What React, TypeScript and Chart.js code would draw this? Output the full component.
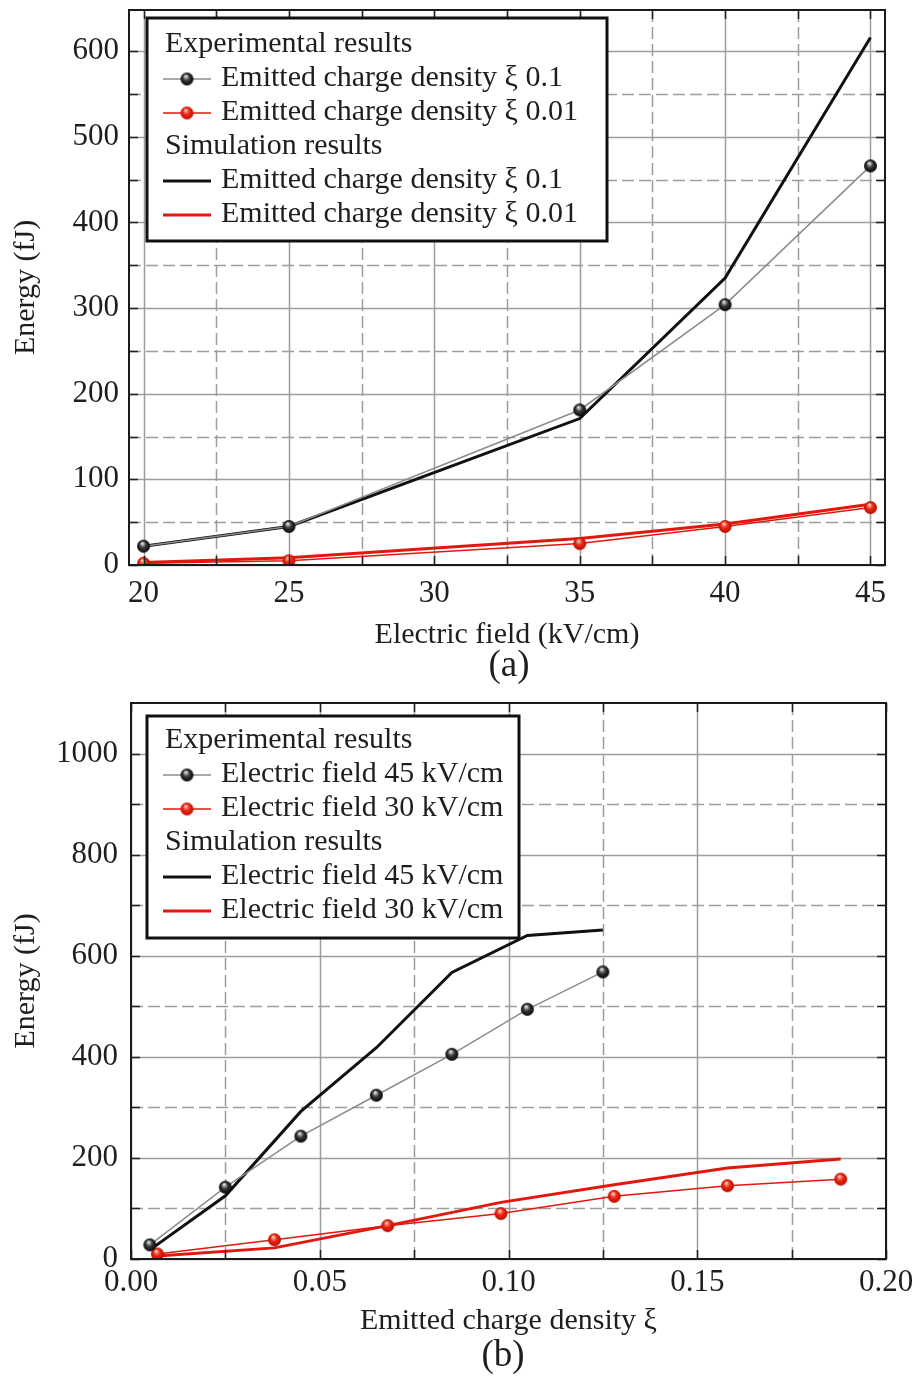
import React, { useEffect, useRef } from "react";
import { Chart, registerables } from "chart.js";

Chart.register(...registerables);

const FONT = "'Liberation Serif', 'Times New Roman', Times, serif";
const TEXT = "#1e1e1e";

// ---------- Panel (a) data ----------
const fieldKV = [20, 25, 35, 40, 45];
const expXi01 = [22, 45, 181, 304, 466];
const expXi001 = [2, 5, 25, 45, 67];
const simXi01 = [22, 45, 171, 335, 616];
const simXi001 = [3, 8.5, 31, 48, 71];

const aXMajor = [20, 25, 30, 35, 40, 45];
const aXMinor = [22.5, 27.5, 32.5, 37.5, 42.5];
const aYMajor = [0, 100, 200, 300, 400, 500, 600];
const aYMinor = [50, 150, 250, 350, 450, 550];

// ---------- Panel (b) data ----------
const xi45 = [0.005, 0.025, 0.045, 0.065, 0.085, 0.105, 0.125];
const exp45 = [28, 142, 243, 324, 405, 494, 568];
const sim45 = [18, 125, 292, 418, 567, 640, 651];
const xi30 = [0.007, 0.038, 0.068, 0.098, 0.128, 0.158, 0.188];
const exp30 = [10, 38, 66, 90, 124, 145, 158];
const sim30 = [6, 22, 66, 112, 147, 180, 198];

const bXMajor = [0, 0.05, 0.1, 0.15, 0.2];
const bXMinor = [0.025, 0.075, 0.125, 0.175];
const bYMajor = [0, 200, 400, 600, 800, 1000];
const bYMinor = [100, 300, 500, 700, 900];

const GREY_LINE = "#8c8c8c";
const RED = "#e3170d";
const BLACK = "#111111";

const TICK_SIZE = 31;
const TITLE_SIZE = 30;
const LEGEND_SIZE = 30;

function makeSphere(light: string, base: string, dark: string, r: number) {
  const c = document.createElement("canvas");
  const s = Math.ceil(r * 2 + 2);
  c.width = s;
  c.height = s;
  const g = c.getContext("2d")!;
  const cx = s / 2;
  const cy = s / 2;
  const grad = g.createRadialGradient(cx - r * 0.2, cy - r * 0.45, r * 0.08, cx, cy, r);
  grad.addColorStop(0, light);
  grad.addColorStop(0.45, base);
  grad.addColorStop(1, dark);
  g.fillStyle = grad;
  g.beginPath();
  g.arc(cx, cy, r, 0, Math.PI * 2);
  g.fill();
  return c;
}

type LegendCfg = { x: number; y: number; w: number; h: number; first: number };

function makeFramePlugin(
  xMajor: number[],
  xMinor: number[],
  yMajor: number[],
  yMinor: number[],
  legend: LegendCfg
) {
  return {
    id: "sciFrame",
    beforeDatasetsDraw(chart: any) {
      const { ctx, chartArea: a, scales } = chart;
      const x = scales.x;
      const y = scales.y;
      ctx.save();
      ctx.strokeStyle = "#9d9d9d";
      ctx.lineWidth = 1.5;
      const vline = (v: number) => {
        const px = Math.round(x.getPixelForValue(v)) + 0.5;
        ctx.beginPath();
        ctx.moveTo(px, a.top);
        ctx.lineTo(px, a.bottom);
        ctx.stroke();
      };
      const hline = (v: number) => {
        const py = Math.round(y.getPixelForValue(v)) + 0.5;
        ctx.beginPath();
        ctx.moveTo(a.left, py);
        ctx.lineTo(a.right, py);
        ctx.stroke();
      };
      ctx.setLineDash([12, 5]);
      xMinor.forEach(vline);
      yMinor.forEach(hline);
      ctx.setLineDash([]);
      xMajor.forEach(vline);
      yMajor.forEach(hline);
      ctx.restore();
    },
    afterDatasetsDraw(chart: any) {
      const { ctx, chartArea: a, scales } = chart;
      const x = scales.x;
      const y = scales.y;
      ctx.save();
      // inward tick marks on all four sides
      ctx.strokeStyle = "#222";
      ctx.lineWidth = 1.5;
      const tl = 9;
      [...xMajor, ...xMinor].forEach((v) => {
        const px = Math.round(x.getPixelForValue(v)) + 0.5;
        ctx.beginPath();
        ctx.moveTo(px, a.bottom);
        ctx.lineTo(px, a.bottom - tl);
        ctx.moveTo(px, a.top);
        ctx.lineTo(px, a.top + tl);
        ctx.stroke();
      });
      [...yMajor, ...yMinor].forEach((v) => {
        const py = Math.round(y.getPixelForValue(v)) + 0.5;
        ctx.beginPath();
        ctx.moveTo(a.left, py);
        ctx.lineTo(a.left + tl, py);
        ctx.moveTo(a.right, py);
        ctx.lineTo(a.right - tl, py);
        ctx.stroke();
      });
      // frame
      ctx.lineWidth = 2;
      ctx.strokeStyle = "#1a1a1a";
      ctx.strokeRect(a.left, a.top, a.right - a.left, a.bottom - a.top);

      // legend
      const L = legend;
      const lx = a.left + L.x;
      const ly = a.top + L.y;
      ctx.fillStyle = "#ffffff";
      ctx.fillRect(lx, ly, L.w, L.h);
      ctx.lineWidth = 3;
      ctx.strokeStyle = "#111";
      ctx.strokeRect(lx, ly, L.w, L.h);
      ctx.font = `${LEGEND_SIZE}px ${FONT}`;
      ctx.textBaseline = "alphabetic";
      ctx.textAlign = "left";
      const ds = chart.data.datasets;
      const rows: any[] = [
        { header: "Experimental results" },
        { d: ds[0] },
        { d: ds[1] },
        { header: "Simulation results" },
        { d: ds[2] },
        { d: ds[3] },
      ];
      rows.forEach((row, i) => {
        const base = ly + L.first + i * 34;
        ctx.fillStyle = TEXT;
        if (row.header) {
          ctx.fillText(row.header, lx + 18, base);
          return;
        }
        const d = row.d;
        const sy = base - 7;
        ctx.strokeStyle = d.borderColor;
        ctx.lineWidth = d.borderWidth;
        ctx.beginPath();
        ctx.moveTo(lx + 16, sy);
        ctx.lineTo(lx + 64, sy);
        ctx.stroke();
        if (d.pointStyle && typeof d.pointStyle !== "string") {
          const img = d.pointStyle as HTMLCanvasElement;
          ctx.drawImage(img, lx + 40 - img.width / 2, sy - img.height / 2);
        }
        ctx.fillStyle = TEXT;
        ctx.fillText(d.label, lx + 74, base);
      });
      ctx.restore();
    },
  };
}

function tickFont() {
  return { family: FONT, size: TICK_SIZE };
}
function titleFont() {
  return { family: FONT, size: TITLE_SIZE };
}

function PanelChart(props: {
  build: (blackSphere: HTMLCanvasElement, redSphere: HTMLCanvasElement) => any;
  width: number;
  height: number;
}) {
  const ref = useRef<HTMLCanvasElement | null>(null);
  useEffect(() => {
    if (!ref.current) return;
    const blackSphere = makeSphere("#e6e6e6", "#3a3a3a", "#050505", 6.5);
    const redSphere = makeSphere("#ffc9bd", "#ec2a14", "#b80d00", 6.5);
    const chart = new Chart(ref.current, props.build(blackSphere, redSphere));
    return () => chart.destroy();
  }, []);
  return (
    <canvas
      ref={ref}
      width={props.width}
      height={props.height}
      style={{ width: props.width, height: props.height, display: "block" }}
    />
  );
}

const noPadY = (w: number) => (s: any) => {
  s.width = w;
  s.paddingTop = 0;
  s.paddingBottom = 0;
};
const noPadX = (h: number) => (s: any) => {
  s.height = h;
  s.paddingLeft = 0;
  s.paddingRight = 0;
};

function buildTop(blackSphere: HTMLCanvasElement, redSphere: HTMLCanvasElement) {
  const pts = (xs: number[], ys: number[]) => xs.map((v, i) => ({ x: v, y: ys[i] }));
  return {
    type: "line",
    data: {
      datasets: [
        {
          label: "Emitted charge density \u03BE 0.1",
          data: pts(fieldKV, expXi01),
          borderColor: GREY_LINE,
          borderWidth: 1.5,
          pointStyle: blackSphere,
          pointRadius: 6.5,
        },
        {
          label: "Emitted charge density \u03BE 0.01",
          data: pts(fieldKV, expXi001),
          borderColor: RED,
          borderWidth: 1.5,
          pointStyle: redSphere,
          pointRadius: 6.5,
        },
        {
          label: "Emitted charge density \u03BE 0.1",
          data: pts(fieldKV, simXi01),
          borderColor: BLACK,
          borderWidth: 3,
          pointRadius: 0,
        },
        {
          label: "Emitted charge density \u03BE 0.01",
          data: pts(fieldKV, simXi001),
          borderColor: RED,
          borderWidth: 3,
          pointRadius: 0,
        },
      ],
    },
    options: {
      responsive: false,
      animation: false,
      devicePixelRatio: 1,
      layout: { padding: { left: 0, top: 10, right: 36, bottom: 37 } },
      plugins: { legend: { display: false }, tooltip: { enabled: false } },
      scales: {
        x: {
          type: "linear",
          min: 19.5,
          max: 45.5,
          grid: { display: false, drawTicks: false },
          border: { display: false },
          afterBuildTicks: (s: any) => {
            s.ticks = aXMajor.map((v) => ({ value: v }));
          },
          afterFit: noPadX(88),
          ticks: {
            font: tickFont(),
            color: TEXT,
            padding: 10,
            maxRotation: 0,
            autoSkip: false,
            callback: (v: any) => String(v),
          },
          title: {
            display: true,
            text: "Electric field (kV/cm)",
            font: titleFont(),
            color: TEXT,
            padding: 0,
          },
        },
        y: {
          type: "linear",
          min: 0,
          max: 648,
          grid: { display: false, drawTicks: false },
          border: { display: false },
          afterBuildTicks: (s: any) => {
            s.ticks = aYMajor.map((v) => ({ value: v }));
          },
          afterFit: noPadY(129),
          ticks: {
            font: tickFont(),
            color: TEXT,
            padding: 10,
            autoSkip: false,
            callback: (v: any) => String(v),
          },
          title: {
            display: true,
            text: "Energy (fJ)",
            font: titleFont(),
            color: TEXT,
            padding: { top: 8, bottom: 0 },
          },
        },
      },
    },
    plugins: [
      makeFramePlugin(aXMajor, aXMinor, aYMajor, aYMinor, {
        x: 18,
        y: 8,
        w: 460,
        h: 223,
        first: 34,
      }),
    ],
  };
}

function buildBottom(blackSphere: HTMLCanvasElement, redSphere: HTMLCanvasElement) {
  const pts = (xs: number[], ys: number[]) => xs.map((v, i) => ({ x: v, y: ys[i] }));
  return {
    type: "line",
    data: {
      datasets: [
        {
          label: "Electric field 45 kV/cm",
          data: pts(xi45, exp45),
          borderColor: GREY_LINE,
          borderWidth: 1.5,
          pointStyle: blackSphere,
          pointRadius: 6.5,
        },
        {
          label: "Electric field 30 kV/cm",
          data: pts(xi30, exp30),
          borderColor: RED,
          borderWidth: 1.5,
          pointStyle: redSphere,
          pointRadius: 6.5,
        },
        {
          label: "Electric field 45 kV/cm",
          data: pts(xi45, sim45),
          borderColor: BLACK,
          borderWidth: 3,
          pointRadius: 0,
        },
        {
          label: "Electric field 30 kV/cm",
          data: pts(xi30, sim30),
          borderColor: RED,
          borderWidth: 3,
          pointRadius: 0,
        },
      ],
    },
    options: {
      responsive: false,
      animation: false,
      devicePixelRatio: 1,
      layout: { padding: { left: 0, top: 13, right: 35, bottom: 43 } },
      plugins: { legend: { display: false }, tooltip: { enabled: false } },
      scales: {
        x: {
          type: "linear",
          min: 0,
          max: 0.2,
          grid: { display: false, drawTicks: false },
          border: { display: false },
          afterBuildTicks: (s: any) => {
            s.ticks = bXMajor.map((v) => ({ value: v }));
          },
          afterFit: noPadX(80),
          ticks: {
            font: tickFont(),
            color: TEXT,
            padding: 5,
            maxRotation: 0,
            autoSkip: false,
            callback: (v: any) => Number(v).toFixed(2),
          },
          title: {
            display: true,
            text: "Emitted charge density \u03BE",
            font: titleFont(),
            color: TEXT,
            padding: 0,
          },
        },
        y: {
          type: "linear",
          min: 0,
          max: 1100,
          grid: { display: false, drawTicks: false },
          border: { display: false },
          afterBuildTicks: (s: any) => {
            s.ticks = bYMajor.map((v) => ({ value: v }));
          },
          afterFit: noPadY(131),
          ticks: {
            font: tickFont(),
            color: TEXT,
            padding: 13,
            autoSkip: false,
            callback: (v: any) => String(v),
          },
          title: {
            display: true,
            text: "Energy (fJ)",
            font: titleFont(),
            color: TEXT,
            padding: { top: 8, bottom: 0 },
          },
        },
      },
    },
    plugins: [
      makeFramePlugin(bXMajor, bXMinor, bYMajor, bYMinor, {
        x: 16,
        y: 13,
        w: 372,
        h: 222,
        first: 32,
      }),
    ],
  };
}

export default function App() {
  const capStyle: React.CSSProperties = {
    position: "absolute",
    width: 120,
    textAlign: "center",
    fontFamily: FONT,
    fontSize: 37,
    lineHeight: "40px",
    color: TEXT,
  };
  return (
    <div
      style={{
        position: "absolute",
        left: 0,
        top: 0,
        width: 921,
        height: 1382,
        background: "#ffffff",
      }}
    >
      <div style={{ position: "absolute", left: 0, top: 0 }}>
        <PanelChart build={buildTop} width={921} height={690} />
      </div>
      <div style={{ position: "absolute", left: 0, top: 690 }}>
        <PanelChart build={buildBottom} width={921} height={692} />
      </div>
      <div style={{ ...capStyle, left: 449, top: 644 }}>(a)</div>
      <div style={{ ...capStyle, left: 443, top: 1334 }}>(b)</div>
    </div>
  );
}
